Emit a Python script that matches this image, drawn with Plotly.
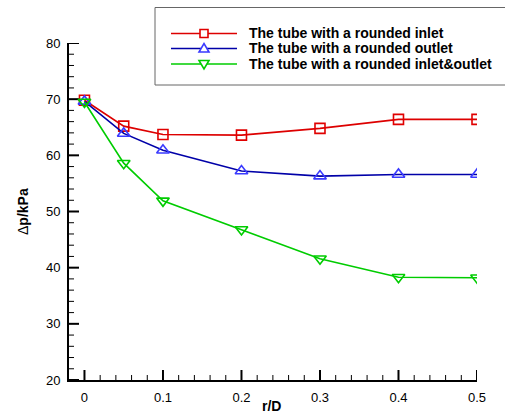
import plotly.graph_objects as go

r_over_D = [0, 0.05, 0.1, 0.2, 0.3, 0.4, 0.5]
dp_inlet = [69.8, 65.2, 63.7, 63.6, 64.8, 66.4, 66.4]
dp_outlet = [69.6, 63.9, 60.9, 57.2, 56.3, 56.6, 56.6]
dp_both = [69.5, 58.6, 51.9, 46.8, 41.6, 38.3, 38.2]
names = ["The tube with a rounded inlet", "The tube with a rounded outlet",
         "The tube with a rounded inlet&outlet"]
x_ticks = [0, 0.1, 0.2, 0.3, 0.4, 0.5]
x_labels = ["0", "0.1", "0.2", "0.3", "0.4", "0.5"]
y_ticks = [20, 30, 40, 50, 60, 70, 80]
y_labels = ["20", "30", "40", "50", "60", "70", "80"]

FONT = "Liberation Sans, Arial, sans-serif"
line_colors = ["#dd0000", "#0000a8", "#00cc00"]
marker_colors = ["#e00000", "#3a3aff", "#00cc00"]
symbols = ["square-open", "triangle-up-open", "triangle-down-open"]
sizes = [10, 11, 11]

W, H = 505, 415
L, R, T, B = 69, 28, 43, 35
pw, ph = W - L - R, H - T - B
XR = [-0.0197, 0.5]
YR = [20, 80]


def px2x(px):
    return (px - L) / pw


def py2y(py):
    return (H - B - py) / ph


fig = go.Figure()

# inward tick marks (major and minor), drawn as line segments on the axes' own scales
x_minor = [round(i * 0.02, 2) for i in range(26) if i % 5]
y_minor = [20 + 2 * i for i in range(31) if i % 5]
dx_per_px = (XR[1] - XR[0]) / pw
dy_per_px = (YR[1] - YR[0]) / ph
for xt, yt, ln, wd in [(x_ticks, y_ticks, 10, 2), (x_minor, y_minor, 5, 1)]:
    xs, ys = [], []
    for v in xt:
        xs += [v, v, None]
        ys += [YR[0], YR[0] + ln * dy_per_px, None]
    for v in yt:
        xs += [XR[0], XR[0] + ln * dx_per_px, None]
        ys += [v, v, None]
    fig.add_trace(go.Scatter(x=xs, y=ys, mode="lines", showlegend=False, hoverinfo="skip",
                             line=dict(color="black", width=wd)))

for ys, nm, lc, mc, sy, sz in zip([dp_inlet, dp_outlet, dp_both], names, line_colors,
                                  marker_colors, symbols, sizes):
    fig.add_trace(go.Scatter(x=r_over_D, y=ys, name=nm, mode="lines+markers",
                             line=dict(color=lc, width=1.6),
                             marker=dict(symbol=sy, size=sz, color=mc, line=dict(width=1.6)),
                             showlegend=False))

fig.update_xaxes(range=XR, tickmode="array", tickvals=x_ticks, ticktext=x_labels,
                 showline=True, linecolor="black", linewidth=2, ticks="", ticklabelstandoff=4,
                 showgrid=False, zeroline=False,
                 tickfont=dict(family=FONT, size=13, color="black"), automargin=False)
fig.update_yaxes(range=YR, tickmode="array", tickvals=y_ticks, ticktext=y_labels,
                 showline=True, linecolor="black", linewidth=2, ticks="", ticklabelstandoff=4,
                 showgrid=False, zeroline=False,
                 tickfont=dict(family=FONT, size=13, color="black"), automargin=False)

shapes = []
# hand-made legend (box, sample lines, markers, labels)
rows = [33.5, 48.5, 64]
marker_paths = [None, "M-5,-3.5L5,-3.5L0,5Z", "M-5,3.5L5,3.5L0,-5Z"]
shapes.append(dict(type="rect", xref="paper", yref="paper", x0=px2x(155), x1=px2x(520),
                   y0=py2y(85), y1=py2y(7.5), line=dict(color="#666666", width=1),
                   fillcolor="rgba(0,0,0,0)", layer="above"))
annotations = []
for i, ry in enumerate(rows):
    shapes.append(dict(type="line", xref="paper", yref="paper", x0=px2x(171), x1=px2x(237),
                       y0=py2y(ry), y1=py2y(ry), line=dict(color=line_colors[i], width=1.6)))
    mk = dict(xref="paper", yref="paper", xsizemode="pixel", ysizemode="pixel",
              xanchor=px2x(204), yanchor=py2y(ry), fillcolor="white",
              line=dict(color=marker_colors[i], width=1.6), layer="above")
    if marker_paths[i] is None:
        mk.update(type="rect", x0=-4, x1=4, y0=-4, y1=4)
    else:
        mk.update(type="path", path=marker_paths[i])
    shapes.append(mk)
    annotations.append(dict(xref="paper", yref="paper", x=px2x(247), y=py2y(ry),
                            xanchor="left", yanchor="middle", showarrow=False,
                            text="<b>" + names[i] + "</b>",
                            font=dict(family=FONT, size=14, color="black")))

annotations.append(dict(xref="paper", yref="paper", x=px2x(271), y=py2y(406),
                        xanchor="center", yanchor="middle", showarrow=False,
                        text="<b>r/D</b>", font=dict(family=FONT, size=14, color="black")))
annotations.append(dict(xref="paper", yref="paper", x=px2x(23), y=py2y(212),
                        xanchor="center", yanchor="middle", showarrow=False, textangle=-90,
                        text="Δ<b>p/kPa</b>", font=dict(family=FONT, size=14, color="black")))

fig.update_layout(
    width=W, height=H,
    margin=dict(l=L, r=R, t=T, b=B, autoexpand=False),
    plot_bgcolor="white", paper_bgcolor="white",
    showlegend=False,
    shapes=shapes, annotations=annotations,
)
fig.write_html("out.html")
